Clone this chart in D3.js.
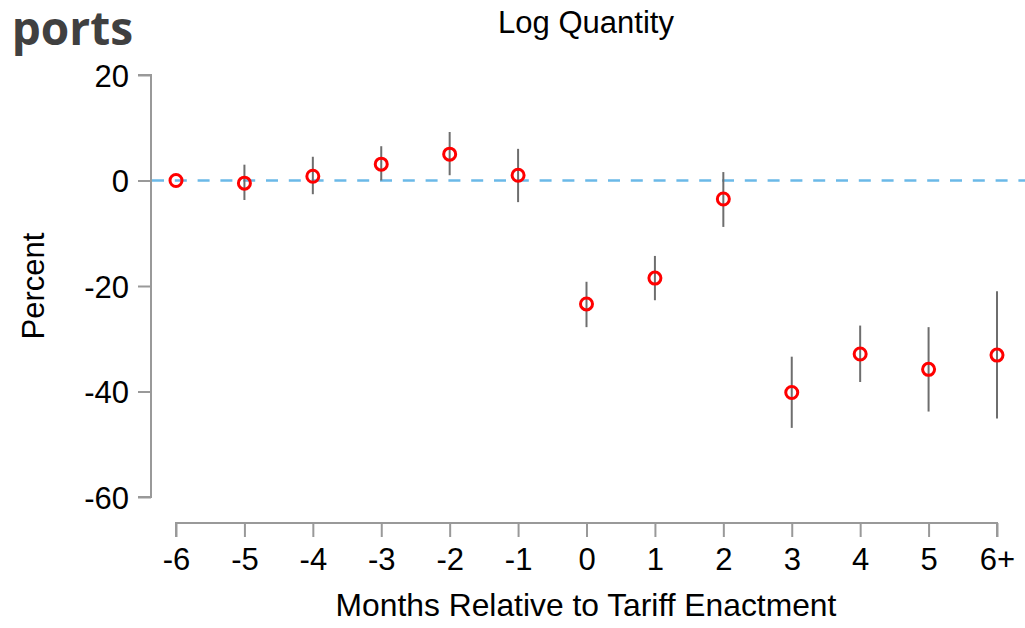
<!DOCTYPE html>
<html><head><meta charset="utf-8">
<script src="https://cdn.jsdelivr.net/npm/d3@7"></script>
<style>
html,body{margin:0;padding:0;background:#fff;}
svg{display:block;}
</style></head>
<body>
<svg id="chart" width="1025" height="628"></svg>
<script>
const categories = ["-6","-5","-4","-3","-2","-1","0","1","2","3","4","5","6+"];
const estimates = [0, -0.5, 0.8, 3.1, 5.0, 1.0, -23.4, -18.5, -3.5, -40.2, -32.9, -35.8, -33.1];
const ciLow  = [0, -3.7, -2.6, 0.0, 1.0, -4.1, -27.8, -22.7, -8.8, -46.9, -38.2, -43.8, -45.1];
const ciHigh = [0, 3.0, 4.5, 6.5, 9.2, 6.0, -19.2, -14.3, 1.6, -33.4, -27.5, -27.8, -21.0];
const yTicks = [20, 0, -20, -40, -60];

const svg = d3.select("#chart");
const font = "'Liberation Sans', Arial, Helvetica, sans-serif";
const fs = 31;

const x = d3.scalePoint().domain(categories).range([176, 997]);
const y = d3.scaleLinear().domain([-60, 20]).range([497, 75]);

// Partial header text
svg.append("text").attr("x", 133).attr("y", 45)
  .attr("text-anchor", "end")
  .attr("font-family", "'Open Sans', sans-serif").attr("font-weight", 700)
  .attr("font-size", 46).attr("fill", "#404040").text("ports");

// Title
svg.append("text").attr("x", 586).attr("y", 33).attr("text-anchor", "middle")
  .attr("font-family", font).attr("font-size", fs).attr("fill", "#000").text("Log Quantity");

// Y axis
const yAxis = d3.axisLeft(y).tickValues(yTicks).tickSize(13).tickPadding(9).tickFormat(d => String(d));
const yg = svg.append("g").attr("transform", "translate(151,0)").call(yAxis);
yg.select(".domain").attr("d", `M-13,${y(20)}H0V${y(-60)}H-13`);
yg.selectAll("path,line").attr("stroke", "#999").attr("stroke-width", 2);
yg.selectAll("text").attr("font-family", font).attr("font-size", fs).attr("fill", "#000")
  .attr("dy", "0.36em");

// X axis
const xAxis = d3.axisBottom(x).tickSize(14).tickPadding(9);
const xg = svg.append("g").attr("transform", "translate(0,523)").call(xAxis);
xg.select(".domain").attr("d", `M176,14V0H997V14`);
xg.selectAll("path,line").attr("stroke", "#999").attr("stroke-width", 2);
xg.selectAll("text").attr("font-family", font).attr("font-size", fs).attr("fill", "#000")
  .attr("y", 47).attr("dy", 0);

// Axis labels
svg.append("text").attr("transform", `translate(44,${y(-20)}) rotate(-90)`)
  .attr("text-anchor", "middle").attr("font-family", font).attr("font-size", fs).text("Percent");
svg.append("text").attr("x", 586).attr("y", 616).attr("text-anchor", "middle")
  .attr("font-family", font).attr("font-size", 31.8).text("Months Relative to Tariff Enactment");

// Zero reference line
svg.append("line").attr("x1", 152).attr("x2", 1025).attr("y1", y(0)).attr("y2", y(0))
  .attr("stroke", "#6bb9e8").attr("stroke-width", 2.5).attr("stroke-dasharray", "12,10.8");

const data = categories.map((c, i) => ({c, est: estimates[i], lo: ciLow[i], hi: ciHigh[i]}));

// CI lines
svg.append("g").selectAll("line").data(data.filter(d => d.hi !== d.lo)).join("line")
  .attr("x1", d => x(d.c)).attr("x2", d => x(d.c))
  .attr("y1", d => y(d.hi)).attr("y2", d => y(d.lo))
  .attr("stroke", "#6e6e6e").attr("stroke-width", 2);

// Points
svg.append("g").selectAll("circle").data(data).join("circle")
  .attr("cx", d => x(d.c)).attr("cy", d => y(d.est)).attr("r", 6)
  .attr("fill", "none").attr("stroke", "#ff0000").attr("stroke-width", 3);
</script>
</body></html>
